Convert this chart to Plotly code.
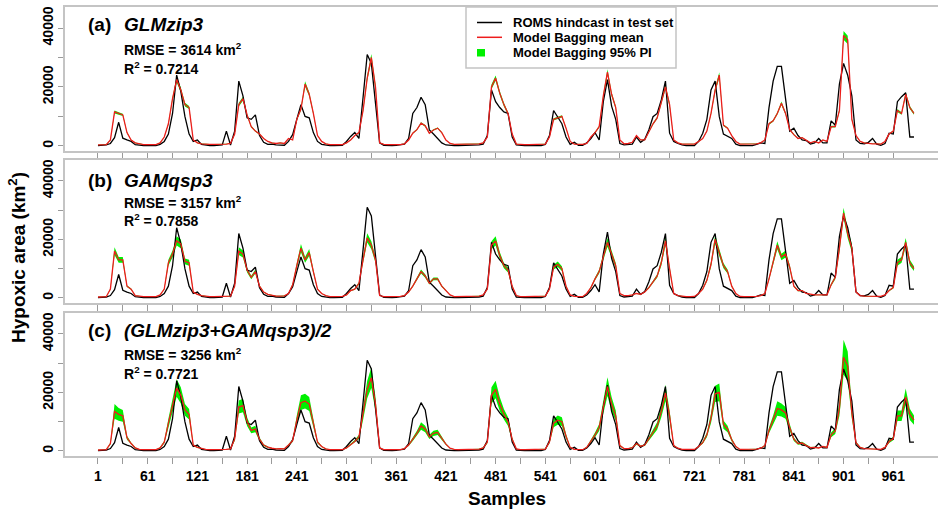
import plotly.graph_objects as go

# sample index of each reading (every 5th sample of the test set)
samples = list(range(1, 987, 5))

# ROMS hindcast (thousand km2)
roms = [0.1, 0.2, 0.3, 0.8, 2.8, 8.0, 2.6, 2.0, 1.5, 0.4,
        0.2, 0.1, 0.1, 0.1, 0.1, 0.5, 1.5, 4.0, 11.0, 24.0,
        18.5, 9.9, 4.0, 1.5, 2.0, 0.5, 0.2, 0.1, 0.1, 0.1,
        0.3, 5.0, 0.3, 5.0, 22.0, 17.0, 9.5, 9.0, 10.5, 3.5,
        1.2, 0.5, 0.6, 0.3, 0.2, 0.2, 1.5, 3.8, 9.0, 14.0,
        10.0, 9.5, 4.5, 1.5, 0.5, 0.2, 0.1, 0.1, 0.1, 0.2,
        1.5, 3.2, 4.5, 2.5, 16.5, 31.0, 28.0, 15.0, 1.0, 0.2,
        0.1, 0.1, 0.2, 0.3, 0.6, 2.5, 11.0, 13.0, 16.5, 14.0,
        5.4, 4.0, 2.5, 1.0, 0.3, 0.1, 0.1, 0.1, 0.1, 0.1,
        0.1, 0.2, 0.3, 0.6, 3.5, 19.0, 15.0, 13.0, 11.5, 11.0,
        3.0, 0.3, 0.1, 0.1, 0.1, 0.1, 0.1, 0.1, 0.5, 3.5,
        12.0, 9.5, 7.5, 3.0, 0.5, 1.2, 0.2, 0.2, 1.0, 2.5,
        4.5, 2.0, 15.0, 22.5, 13.5, 9.0, 0.8, 0.3, 0.5, 0.6,
        3.0, 1.2, 2.2, 5.5, 9.9, 11.0, 15.6, 22.0, 4.3, 1.5,
        0.8, 0.3, 0.1, 0.1, 0.1, 1.5, 4.3, 9.0, 19.0, 22.0,
        9.9, 4.0, 3.2, 2.5, 0.6, 0.1, 0.1, 0.1, 0.1, 0.5,
        1.0, 0.8, 13.0, 22.0, 27.0, 27.0, 15.0, 5.0, 6.0, 3.5,
        2.0, 1.8, 0.6, 1.0, 2.5, 1.0, 1.0, 8.5, 7.0, 21.0,
        28.0, 24.0, 17.0, 2.0, 0.8, 0.7, 1.2, 2.5, 0.6, 0.2,
        0.8, 4.3, 4.0, 15.0, 16.7, 18.0, 3.0, 3.0]

# Model bagging means (thousand km2)
mean_glm = [0.3, 0.4, 0.4, 2.0, 11.5, 11.0, 10.5, 4.5, 2.0, 1.0,
            0.6, 0.4, 0.4, 0.4, 0.4, 1.0, 3.0, 7.5, 16.0, 22.5,
            19.0, 14.0, 13.0, 2.0, 1.0, 0.7, 0.5, 0.5, 0.5, 0.5,
            0.5, 0.6, 0.8, 4.0, 14.0, 16.0, 10.5, 6.5, 5.0, 4.0,
            2.5, 1.5, 1.0, 0.8, 1.0, 0.8, 2.5, 2.0, 9.0, 12.5,
            21.0, 17.5, 11.0, 3.5, 1.5, 0.7, 0.4, 0.4, 0.4, 0.4,
            1.0, 2.0, 3.5, 4.5, 12.0, 23.0, 30.0, 20.0, 1.0, 0.5,
            0.4, 0.4, 0.4, 0.4, 0.7, 2.0, 4.3, 5.5, 7.7, 6.8,
            4.3, 5.4, 6.0, 4.5, 2.0, 0.8, 0.5, 0.5, 0.5, 0.5,
            0.5, 0.5, 0.7, 1.0, 3.0, 20.0, 23.0, 17.9, 14.0, 11.0,
            4.0, 0.6, 0.4, 0.4, 0.4, 0.4, 0.4, 0.4, 0.6, 3.0,
            9.0, 9.5, 10.0, 6.0, 1.5, 0.6, 0.5, 0.5, 0.8, 3.0,
            4.5, 6.5, 17.0, 25.0, 17.5, 13.0, 2.0, 0.7, 0.8, 1.2,
            3.5, 2.0, 2.0, 5.0, 7.5, 9.5, 15.0, 20.0, 14.0, 2.0,
            1.0, 0.6, 0.6, 0.6, 0.6, 1.5, 2.5, 5.0, 11.0, 19.0,
            24.0, 7.0, 6.0, 3.5, 1.5, 0.6, 0.6, 0.6, 0.6, 0.7,
            1.0, 2.0, 7.5, 8.5, 11.0, 14.5, 11.0, 5.5, 3.8, 2.5,
            2.8, 2.0, 1.0, 1.5, 1.0, 2.0, 1.5, 6.5, 6.5, 12.0,
            37.5, 36.0, 9.0, 3.5, 1.5, 1.0, 0.8, 0.7, 0.7, 0.6,
            1.5, 4.0, 5.0, 12.0, 11.0, 17.5, 13.0, 11.0]

mean_gam = [0.3, 0.4, 0.4, 3.0, 16.0, 13.0, 13.0, 4.0, 3.0, 0.8,
            0.5, 0.4, 0.4, 0.4, 0.4, 1.0, 3.0, 12.0, 15.0, 19.5,
            18.5, 12.5, 12.0, 2.0, 1.2, 0.8, 0.5, 0.4, 0.4, 0.4,
            0.4, 0.5, 0.6, 4.0, 16.0, 15.0, 9.5, 7.0, 9.0, 4.0,
            2.0, 1.2, 0.8, 0.6, 0.6, 0.7, 1.5, 4.5, 11.0, 17.0,
            13.0, 15.5, 9.0, 3.0, 1.5, 0.8, 0.4, 0.4, 0.4, 0.5,
            1.0, 2.5, 3.0, 5.0, 13.0, 20.5, 18.0, 13.0, 0.8, 0.4,
            0.4, 0.4, 0.4, 0.5, 0.8, 2.0, 4.0, 6.5, 9.0, 7.5,
            5.0, 6.5, 6.5, 4.0, 2.5, 1.0, 0.4, 0.4, 0.4, 0.4,
            0.4, 0.5, 0.6, 1.0, 3.0, 18.0, 19.5, 14.5, 11.0, 9.5,
            4.0, 0.8, 0.4, 0.4, 0.4, 0.4, 0.4, 0.4, 0.6, 3.0,
            10.5, 11.5, 10.0, 4.0, 1.0, 0.5, 0.4, 0.4, 1.5, 3.5,
            6.5, 9.0, 14.0, 19.0, 15.0, 11.0, 1.5, 0.8, 0.8, 1.0,
            1.5, 1.2, 2.0, 3.5, 5.5, 7.5, 12.0, 19.5, 10.0, 1.5,
            0.8, 0.5, 0.4, 0.4, 0.5, 1.5, 3.0, 6.0, 11.5, 20.0,
            15.5, 11.0, 9.0, 4.0, 1.5, 0.5, 0.4, 0.4, 0.4, 0.5,
            0.8, 1.5, 6.5, 12.0, 18.0, 14.0, 15.0, 10.5, 4.0, 2.5,
            2.5, 1.5, 1.2, 1.0, 1.0, 1.0, 1.0, 4.5, 7.0, 17.0,
            29.0, 22.0, 17.0, 2.0, 0.8, 0.6, 0.6, 0.6, 0.5, 0.5,
            1.0, 2.5, 3.5, 12.0, 13.0, 19.0, 12.0, 10.0]

mean_avg = [0.3, 0.4, 0.4, 2.5, 13.5, 12.5, 12.0, 4.5, 2.5, 1.0,
            0.5, 0.4, 0.4, 0.4, 0.4, 1.0, 3.0, 9.5, 15.0, 21.5,
            19.0, 14.0, 12.5, 2.0, 1.2, 0.8, 0.5, 0.4, 0.4, 0.4,
            0.4, 0.5, 0.7, 4.0, 15.0, 15.5, 10.0, 7.0, 7.5, 4.0,
            2.0, 1.3, 0.9, 0.7, 0.8, 0.7, 2.0, 3.5, 10.5, 16.5,
            17.0, 16.0, 9.5, 3.0, 1.5, 0.7, 0.4, 0.4, 0.4, 0.4,
            1.0, 2.2, 3.2, 4.8, 12.5, 21.0, 25.0, 16.0, 1.0, 0.4,
            0.4, 0.4, 0.4, 0.4, 0.8, 2.0, 4.0, 6.0, 8.5, 7.5,
            4.8, 6.0, 6.3, 4.3, 2.3, 0.9, 0.5, 0.4, 0.4, 0.4,
            0.4, 0.5, 0.6, 1.0, 3.0, 19.0, 21.0, 16.0, 12.5, 10.0,
            4.0, 0.7, 0.4, 0.4, 0.4, 0.4, 0.4, 0.4, 0.6, 3.0,
            9.5, 10.5, 10.0, 5.0, 1.2, 0.5, 0.4, 0.4, 1.2, 3.2,
            5.5, 8.0, 15.5, 22.0, 16.0, 12.0, 1.8, 0.8, 0.8, 1.1,
            2.5, 1.6, 2.0, 4.2, 6.5, 8.5, 13.5, 19.8, 12.0, 1.8,
            0.9, 0.5, 0.5, 0.5, 0.5, 1.5, 2.8, 5.5, 11.2, 19.5,
            20.0, 9.0, 7.5, 3.8, 1.5, 0.5, 0.5, 0.5, 0.5, 0.6,
            0.9, 1.8, 7.0, 10.5, 14.5, 14.0, 13.0, 8.0, 4.0, 2.5,
            2.7, 1.8, 1.1, 1.2, 1.0, 1.5, 1.2, 5.5, 6.8, 14.5,
            32.0, 29.0, 13.0, 2.8, 1.2, 0.8, 0.7, 0.7, 0.6, 0.5,
            1.2, 3.2, 4.2, 12.0, 12.0, 18.5, 12.5, 10.5]

# half-width of the 95% prediction interval (thousand km2)
pi_glm = [0.1, 0.1, 0.1, 0.1, 0.5, 0.4, 0.4, 0.2, 0.1, 0.1,
          0.1, 0.1, 0.1, 0.1, 0.1, 0.1, 0.1, 0.3, 0.6, 0.9,
          0.8, 0.6, 0.5, 0.1, 0.1, 0.1, 0.1, 0.1, 0.1, 0.1,
          0.1, 0.1, 0.1, 0.2, 0.6, 0.7, 0.4, 0.3, 0.2, 0.2,
          0.1, 0.1, 0.1, 0.1, 0.1, 0.1, 0.1, 0.1, 0.4, 0.5,
          0.9, 0.7, 0.4, 0.1, 0.1, 0.1, 0.1, 0.1, 0.1, 0.1,
          0.1, 0.1, 0.1, 0.2, 0.5, 0.9, 1.2, 0.8, 0.1, 0.1,
          0.1, 0.1, 0.1, 0.1, 0.1, 0.1, 0.2, 0.2, 0.3, 0.3,
          0.2, 0.2, 0.2, 0.2, 0.1, 0.1, 0.1, 0.1, 0.1, 0.1,
          0.1, 0.1, 0.1, 0.1, 0.1, 0.8, 0.9, 0.7, 0.6, 0.4,
          0.2, 0.1, 0.1, 0.1, 0.1, 0.1, 0.1, 0.1, 0.1, 0.1,
          0.4, 0.4, 0.4, 0.2, 0.1, 0.1, 0.1, 0.1, 0.1, 0.1,
          0.2, 0.3, 0.7, 1.0, 0.7, 0.5, 0.1, 0.1, 0.1, 0.1,
          0.1, 0.1, 0.1, 0.2, 0.3, 0.4, 0.6, 0.8, 0.6, 0.1,
          0.1, 0.1, 0.1, 0.1, 0.1, 0.1, 0.1, 0.2, 0.4, 0.8,
          1.0, 0.3, 0.2, 0.1, 0.1, 0.1, 0.1, 0.1, 0.1, 0.1,
          0.1, 0.1, 0.3, 0.3, 0.4, 0.6, 0.4, 0.2, 0.2, 0.1,
          0.1, 0.1, 0.1, 0.1, 0.1, 0.1, 0.1, 0.3, 0.3, 0.5,
          1.5, 1.4, 0.4, 0.1, 0.1, 0.1, 0.1, 0.1, 0.1, 0.1,
          0.1, 0.2, 0.2, 0.5, 0.4, 0.7, 0.5, 0.4]

pi_gam = [0.1, 0.1, 0.1, 0.2, 1.3, 1.0, 1.0, 0.3, 0.2, 0.1,
          0.1, 0.1, 0.1, 0.1, 0.1, 0.1, 0.2, 1.0, 1.2, 1.6,
          1.5, 1.0, 1.0, 0.2, 0.1, 0.1, 0.1, 0.1, 0.1, 0.1,
          0.1, 0.1, 0.1, 0.3, 1.3, 1.2, 0.8, 0.6, 0.7, 0.3,
          0.2, 0.1, 0.1, 0.1, 0.1, 0.1, 0.1, 0.4, 0.9, 1.4,
          1.0, 1.2, 0.7, 0.2, 0.1, 0.1, 0.1, 0.1, 0.1, 0.1,
          0.1, 0.2, 0.2, 0.4, 1.0, 1.6, 1.4, 1.0, 0.1, 0.1,
          0.1, 0.1, 0.1, 0.1, 0.1, 0.2, 0.3, 0.5, 0.7, 0.6,
          0.4, 0.5, 0.5, 0.3, 0.2, 0.1, 0.1, 0.1, 0.1, 0.1,
          0.1, 0.1, 0.1, 0.1, 0.2, 1.4, 1.6, 1.2, 0.9, 0.8,
          0.3, 0.1, 0.1, 0.1, 0.1, 0.1, 0.1, 0.1, 0.1, 0.2,
          0.8, 0.9, 0.8, 0.3, 0.1, 0.1, 0.1, 0.1, 0.1, 0.3,
          0.5, 0.7, 1.1, 1.5, 1.2, 0.9, 0.1, 0.1, 0.1, 0.1,
          0.1, 0.1, 0.2, 0.3, 0.4, 0.6, 1.0, 1.6, 0.8, 0.1,
          0.1, 0.1, 0.1, 0.1, 0.1, 0.1, 0.2, 0.5, 0.9, 1.6,
          1.2, 0.9, 0.7, 0.3, 0.1, 0.1, 0.1, 0.1, 0.1, 0.1,
          0.1, 0.1, 0.5, 1.0, 1.4, 1.1, 1.2, 0.8, 0.3, 0.2,
          0.2, 0.1, 0.1, 0.1, 0.1, 0.1, 0.1, 0.4, 0.6, 1.4,
          1.8, 1.6, 1.4, 0.2, 0.1, 0.1, 0.1, 0.1, 0.1, 0.1,
          0.1, 0.2, 0.3, 1.0, 1.0, 1.5, 1.0, 0.8]

pi_avg = [0.1, 0.1, 0.1, 0.4, 2.5, 2.2, 2.0, 0.7, 0.4, 0.2,
          0.1, 0.1, 0.1, 0.1, 0.1, 0.2, 0.5, 1.5, 2.2, 3.0,
          2.8, 2.0, 1.8, 0.3, 0.2, 0.1, 0.1, 0.1, 0.1, 0.1,
          0.1, 0.1, 0.1, 0.6, 2.2, 2.3, 1.5, 1.0, 1.1, 0.6,
          0.3, 0.2, 0.1, 0.1, 0.1, 0.1, 0.3, 0.5, 1.6, 2.5,
          2.5, 2.4, 1.4, 0.5, 0.2, 0.1, 0.1, 0.1, 0.1, 0.1,
          0.2, 0.3, 0.5, 0.7, 1.9, 3.0, 3.5, 2.4, 0.2, 0.1,
          0.1, 0.1, 0.1, 0.1, 0.1, 0.3, 0.6, 0.9, 1.3, 1.1,
          0.7, 0.9, 0.9, 0.6, 0.3, 0.1, 0.1, 0.1, 0.1, 0.1,
          0.1, 0.1, 0.1, 0.2, 0.5, 2.8, 3.0, 2.4, 1.8, 1.5,
          0.6, 0.1, 0.1, 0.1, 0.1, 0.1, 0.1, 0.1, 0.1, 0.5,
          1.4, 1.6, 1.5, 0.8, 0.2, 0.1, 0.1, 0.1, 0.2, 0.5,
          0.8, 1.2, 2.3, 3.2, 2.4, 1.8, 0.3, 0.1, 0.1, 0.2,
          0.4, 0.2, 0.3, 0.6, 1.0, 1.3, 2.0, 2.8, 1.8, 0.3,
          0.1, 0.1, 0.1, 0.1, 0.1, 0.2, 0.4, 0.8, 1.7, 2.8,
          3.0, 1.4, 1.1, 0.6, 0.2, 0.1, 0.1, 0.1, 0.1, 0.1,
          0.1, 0.3, 1.0, 1.6, 2.5, 2.2, 2.0, 1.2, 0.6, 0.4,
          0.4, 0.3, 0.2, 0.2, 0.1, 0.2, 0.2, 0.8, 1.0, 2.5,
          6.0, 5.0, 2.0, 0.4, 0.2, 0.1, 0.1, 0.1, 0.1, 0.1,
          0.2, 0.5, 0.6, 1.8, 1.8, 2.8, 1.9, 1.6]

panel_tags = ["(a)", "(b)", "(c)"]
panel_models = ["GLMzip3", "GAMqsp3", "(GLMzip3+GAMqsp3)/2"]
panel_rmse = ["3614", "3157", "3256"]
panel_r2 = ["0.7214", "0.7858", "0.7721"]
legend_labels = ["ROMS hindcast in test set", "Model Bagging mean", "Model Bagging 95% PI"]

x_major_ticks = list(range(1, 962, 60))
x_minor_ticks = list(range(31, 962, 60))
y_major_ticks = [0, 20000, 40000]
y_major_text = ["0", "20000", "40000"]
y_minor_ticks = [10000, 30000]

FONT = "Liberation Sans, Arial, sans-serif"
GREY = "#c4c4c4"
TICKC = "#9a9a9a"
RED = "#ee1c1c"
GREEN = "rgb(0,240,0)"

means = [mean_glm, mean_gam, mean_avg]
pis = [pi_glm, pi_gam, pi_avg]

W, H = 938, 509
ML, MR, MT, MB = 65, 0, 7, 53
PW = W - ML - MR
PH = H - MT - MB
# panel pixel boxes (top, bottom)
panel_px = [(7, 151), (160, 303), (313, 456)]


def py2paper(py):
    return (H - MB - py) / PH


def px2paper(px):
    return (px - ML) / PW


fig = go.Figure()
roms_km2 = [v * 1000 for v in roms]
for i in range(3):
    xa = "x" if i == 0 else f"x{i+1}"
    ya = "y" if i == 0 else f"y{i+1}"
    m = [v * 1000 for v in means[i]]
    h = [v * 1000 for v in pis[i]]
    lo = [max(0.0, a - b) for a, b in zip(m, h)]
    hi = [a + b for a, b in zip(m, h)]
    fig.add_trace(go.Scatter(x=samples, y=lo, mode="lines", line=dict(width=0, color="rgba(0,0,0,0)"),
                             showlegend=False, hoverinfo="skip", xaxis=xa, yaxis=ya))
    fig.add_trace(go.Scatter(x=samples, y=hi, mode="lines", line=dict(width=0, color="rgba(0,0,0,0)"),
                             fill="tonexty", fillcolor=GREEN,
                             showlegend=False, hoverinfo="skip", xaxis=xa, yaxis=ya))
    fig.add_trace(go.Scatter(x=samples, y=roms_km2, mode="lines", line=dict(width=1.3, color="black"),
                             showlegend=False, xaxis=xa, yaxis=ya))
    fig.add_trace(go.Scatter(x=samples, y=m, mode="lines", line=dict(width=1.3, color=RED),
                             showlegend=False, xaxis=xa, yaxis=ya))

layout = dict(width=W, height=H, margin=dict(l=ML, r=MR, t=MT, b=MB),
              paper_bgcolor="white", plot_bgcolor="white",
              font=dict(family=FONT, color="black"), showlegend=False)

for i in range(3):
    top, bot = panel_px[i]
    xk = "xaxis" if i == 0 else f"xaxis{i+1}"
    yk = "yaxis" if i == 0 else f"yaxis{i+1}"
    xa = "x" if i == 0 else f"x{i+1}"
    ya = "y" if i == 0 else f"y{i+1}"
    layout[xk] = dict(domain=[0, 1], anchor=ya, range=[-38.8, 1015],
                      tickmode="array", tickvals=x_major_ticks,
                      ticktext=[str(v) for v in x_major_ticks],
                      showticklabels=(i == 2), ticks="outside", ticklen=6, tickwidth=1, tickcolor=TICKC,
                      minor=dict(tickmode="array", tickvals=x_minor_ticks, ticks="outside",
                                 ticklen=6, tickwidth=1, tickcolor=TICKC, showgrid=False),
                      showline=True, linecolor=GREY, linewidth=1.5, mirror=True,
                      showgrid=False, zeroline=False,
                      tickfont=dict(size=14, family=FONT, weight="bold", color="black"))
    layout[yk] = dict(domain=[py2paper(bot), py2paper(top)], anchor=xa, range=[-1750, 47150],
                      tickmode="array", tickvals=y_major_ticks, ticktext=y_major_text, tickangle=-90,
                      ticks="outside", ticklen=5, tickwidth=1, tickcolor=TICKC,
                      minor=dict(tickmode="array", tickvals=y_minor_ticks, ticks="outside",
                                 ticklen=5, tickwidth=1, tickcolor=TICKC, showgrid=False),
                      showline=True, linecolor=GREY, linewidth=1.5, mirror=False,
                      showgrid=False, zeroline=False,
                      tickfont=dict(size=14, family=FONT, weight="bold", color="black"))

fig.update_layout(**layout)

ann = []
tag_y = [25, 180, 330]
rmse_y = [49.3, 201.7, 354.3]
r2_y = [68.3, 220, 373.3]
for i in range(3):
    ann.append(dict(x=px2paper(86), y=py2paper(tag_y[i]), xref="paper", yref="paper",
                    text=f"<b>{panel_tags[i]}</b>", showarrow=False, xanchor="left", yanchor="middle",
                    font=dict(size=19, family=FONT)))
    ann.append(dict(x=px2paper(122), y=py2paper(tag_y[i]), xref="paper", yref="paper",
                    text=f"<b><i>{panel_models[i]}</i></b>", showarrow=False, xanchor="left", yanchor="middle",
                    font=dict(size=19, family=FONT)))
    ann.append(dict(x=px2paper(122), y=py2paper(rmse_y[i]), xref="paper", yref="paper",
                    text=f"<b>RMSE = {panel_rmse[i]} km<sup>2</sup></b>", showarrow=False,
                    xanchor="left", yanchor="middle", font=dict(size=14, family=FONT)))
    ann.append(dict(x=px2paper(122), y=py2paper(r2_y[i]), xref="paper", yref="paper",
                    text=f"<b>R<sup>2</sup> = {panel_r2[i]}</b>", showarrow=False,
                    xanchor="left", yanchor="middle", font=dict(size=14, family=FONT)))

ann.append(dict(x=px2paper(507), y=py2paper(498), xref="paper", yref="paper", text="<b>Samples</b>",
                showarrow=False, xanchor="center", yanchor="middle", font=dict(size=19, family=FONT)))
ann.append(dict(x=px2paper(17), y=py2paper(258), xref="paper", yref="paper",
                text="<b>Hypoxic area (km<sup>2</sup>)</b>", textangle=-90,
                showarrow=False, xanchor="center", yanchor="middle", font=dict(size=19, family=FONT)))

# legend (drawn in panel a)
leg_rows = [22.5, 37.3, 52.3]
for j, lab in enumerate(legend_labels):
    ann.append(dict(x=px2paper(511), y=py2paper(leg_rows[j]), xref="paper", yref="paper",
                    text=f"<b>{lab}</b>", showarrow=False, xanchor="left", yanchor="middle",
                    font=dict(size=13, family=FONT)))

shapes = [
    dict(type="rect", xref="paper", yref="paper", x0=px2paper(466), x1=px2paper(676),
         y0=py2paper(68), y1=py2paper(7), line=dict(color=GREY, width=1.5), fillcolor="white", layer="above"),
    dict(type="line", xref="paper", yref="paper", x0=px2paper(477), x1=px2paper(502),
         y0=py2paper(leg_rows[0]), y1=py2paper(leg_rows[0]), line=dict(color="black", width=1.5), layer="above"),
    dict(type="line", xref="paper", yref="paper", x0=px2paper(477), x1=px2paper(502),
         y0=py2paper(leg_rows[1]), y1=py2paper(leg_rows[1]), line=dict(color=RED, width=1.5), layer="above"),
    dict(type="rect", xref="paper", yref="paper", x0=px2paper(477), x1=px2paper(485),
         y0=py2paper(56.5), y1=py2paper(49), line=dict(width=0), fillcolor=GREEN, layer="above"),
]

fig.update_layout(annotations=ann, shapes=shapes)
fig.write_html("out.html", config={"displayModeBar": False})
